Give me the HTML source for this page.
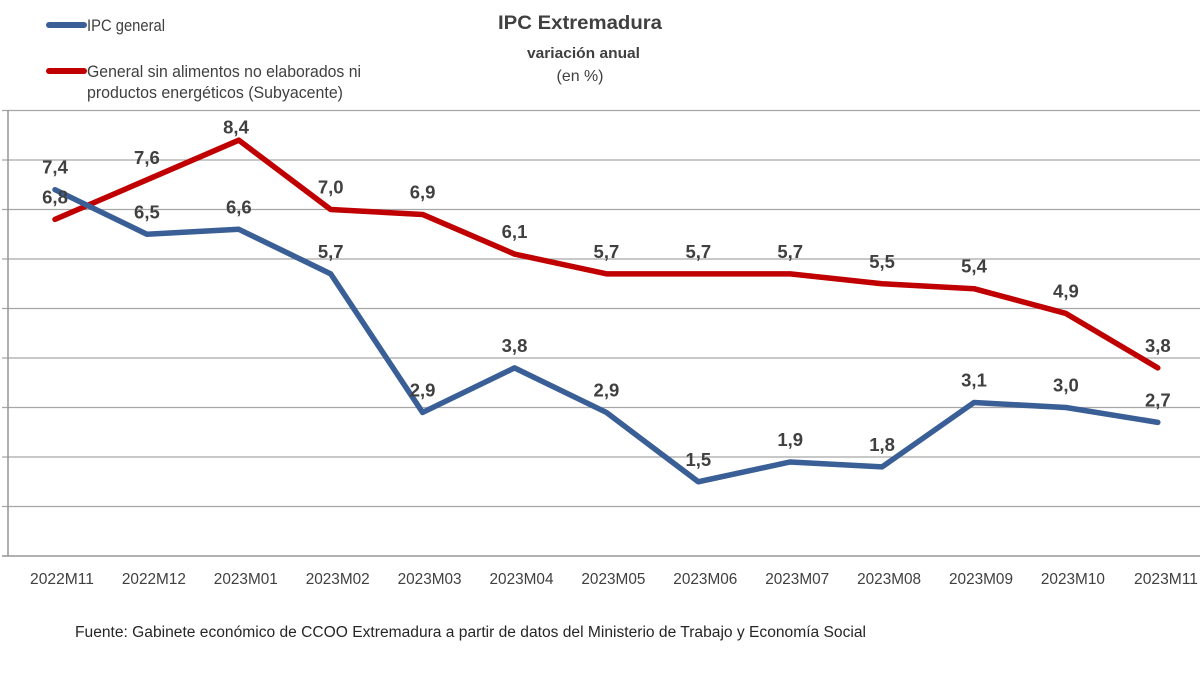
<!DOCTYPE html>
<html>
<head>
<meta charset="utf-8">
<style>
  html,body{margin:0;padding:0;background:#ffffff;}
  svg{display:block;}
  text{font-family:"Liberation Sans", Arial, sans-serif;}
</style>
</head>
<body>
<svg width="1200" height="675" viewBox="0 0 1200 675" xmlns="http://www.w3.org/2000/svg">
  <rect x="0" y="0" width="1200" height="675" fill="#ffffff"/>

  <!-- Legend -->
  <line x1="49" y1="25" x2="84" y2="25" stroke="#3A5F96" stroke-width="6" stroke-linecap="round"/>
  <text x="87" y="31" font-size="16.5" fill="#404040" textLength="78" lengthAdjust="spacingAndGlyphs">IPC general</text>
  <line x1="49" y1="71" x2="84" y2="71" stroke="#C00000" stroke-width="6" stroke-linecap="round"/>
  <text x="87" y="77" font-size="16.5" fill="#404040" textLength="274" lengthAdjust="spacingAndGlyphs">General sin alimentos no elaborados ni</text>
  <text x="87" y="98" font-size="16.5" fill="#404040" textLength="256" lengthAdjust="spacingAndGlyphs">productos energéticos (Subyacente)</text>

  <!-- Title -->
  <text x="580" y="29" font-size="19.5" font-weight="bold" fill="#404040" text-anchor="middle" textLength="164" lengthAdjust="spacingAndGlyphs">IPC Extremadura</text>
  <text x="583.5" y="58" font-size="15" font-weight="bold" fill="#404040" text-anchor="middle" textLength="113" lengthAdjust="spacingAndGlyphs">variación anual</text>
  <text x="580" y="81" font-size="16" fill="#404040" text-anchor="middle" textLength="47" lengthAdjust="spacingAndGlyphs">(en %)</text>

  <!-- Gridlines -->
  <g stroke="#A6A6A6" stroke-width="1.3">
    <line x1="2" y1="110.5" x2="1200" y2="110.5"/>
    <line x1="2" y1="160" x2="1200" y2="160"/>
    <line x1="2" y1="209.5" x2="1200" y2="209.5"/>
    <line x1="2" y1="259" x2="1200" y2="259"/>
    <line x1="2" y1="308.5" x2="1200" y2="308.5"/>
    <line x1="2" y1="358" x2="1200" y2="358"/>
    <line x1="2" y1="407.5" x2="1200" y2="407.5"/>
    <line x1="2" y1="457" x2="1200" y2="457"/>
    <line x1="2" y1="506.5" x2="1200" y2="506.5"/>
  </g>
  <!-- Axes -->
  <line x1="2" y1="556" x2="1200" y2="556" stroke="#959595" stroke-width="1.5"/>
  <line x1="8" y1="110" x2="8" y2="556.5" stroke="#959595" stroke-width="1.5"/>

  <!-- X axis labels -->
  <g font-size="16" fill="#404040" text-anchor="middle">
    <text x="62" y="584" textLength="64" lengthAdjust="spacingAndGlyphs">2022M11</text>
    <text x="153.9" y="584" textLength="64" lengthAdjust="spacingAndGlyphs">2022M12</text>
    <text x="245.8" y="584" textLength="64" lengthAdjust="spacingAndGlyphs">2023M01</text>
    <text x="337.7" y="584" textLength="64" lengthAdjust="spacingAndGlyphs">2023M02</text>
    <text x="429.6" y="584" textLength="64" lengthAdjust="spacingAndGlyphs">2023M03</text>
    <text x="521.5" y="584" textLength="64" lengthAdjust="spacingAndGlyphs">2023M04</text>
    <text x="613.4" y="584" textLength="64" lengthAdjust="spacingAndGlyphs">2023M05</text>
    <text x="705.3" y="584" textLength="64" lengthAdjust="spacingAndGlyphs">2023M06</text>
    <text x="797.2" y="584" textLength="64" lengthAdjust="spacingAndGlyphs">2023M07</text>
    <text x="889.1" y="584" textLength="64" lengthAdjust="spacingAndGlyphs">2023M08</text>
    <text x="981" y="584" textLength="64" lengthAdjust="spacingAndGlyphs">2023M09</text>
    <text x="1072.9" y="584" textLength="64" lengthAdjust="spacingAndGlyphs">2023M10</text>
    <text x="1166" y="584" textLength="64" lengthAdjust="spacingAndGlyphs">2023M11</text>
  </g>

  <!-- Series: Subyacente (red) -->
  <polyline fill="none" stroke="#C00000" stroke-width="5.5" stroke-linecap="round" stroke-linejoin="round"
    points="55,219.4 146.9,179.8 238.8,140.2 330.7,209.5 422.6,214.45 514.5,254.05 606.4,273.85 698.3,273.85 790.2,273.85 882.1,283.75 974,288.7 1065.9,313.45 1157.8,367.9"/>

  <!-- Series: IPC general (blue) -->
  <polyline fill="none" stroke="#3A5F96" stroke-width="5.5" stroke-linecap="round" stroke-linejoin="round"
    points="55,189.7 146.9,234.25 238.8,229.3 330.7,273.85 422.6,412.45 514.5,367.9 606.4,412.45 698.3,481.75 790.2,461.95 882.1,466.9 974,402.55 1065.9,407.5 1157.8,422.35"/>

  <!-- Data labels red -->
  <g font-size="18.5" font-weight="bold" fill="#404040" text-anchor="middle">
    <text x="55" y="203.4">6,8</text>
    <text x="146.9" y="163.8">7,6</text>
    <text x="236" y="133.5">8,4</text>
    <text x="330.7" y="193.5">7,0</text>
    <text x="422.6" y="198.45">6,9</text>
    <text x="514.5" y="238.05">6,1</text>
    <text x="606.4" y="257.85">5,7</text>
    <text x="698.3" y="257.85">5,7</text>
    <text x="790.2" y="257.85">5,7</text>
    <text x="882.1" y="267.75">5,5</text>
    <text x="974" y="272.7">5,4</text>
    <text x="1065.9" y="297.45">4,9</text>
    <text x="1157.8" y="351.9">3,8</text>
  </g>

  <!-- Data labels blue -->
  <g font-size="18.5" font-weight="bold" fill="#404040" text-anchor="middle">
    <text x="55" y="173.7">7,4</text>
    <text x="146.9" y="218.25">6,5</text>
    <text x="238.8" y="213.3">6,6</text>
    <text x="330.7" y="257.85">5,7</text>
    <text x="422.6" y="396.45">2,9</text>
    <text x="514.5" y="351.9">3,8</text>
    <text x="606.4" y="396.45">2,9</text>
    <text x="698.3" y="465.75">1,5</text>
    <text x="790.2" y="445.95">1,9</text>
    <text x="882.1" y="450.9">1,8</text>
    <text x="974" y="386.55">3,1</text>
    <text x="1065.9" y="391.5">3,0</text>
    <text x="1157.8" y="406.35">2,7</text>
  </g>

  <!-- Footer -->
  <text x="75" y="637" font-size="15.5" fill="#262626" textLength="791" lengthAdjust="spacingAndGlyphs">Fuente: Gabinete económico de CCOO Extremadura a partir de datos del Ministerio de Trabajo y Economía Social</text>
</svg>
</body>
</html>
